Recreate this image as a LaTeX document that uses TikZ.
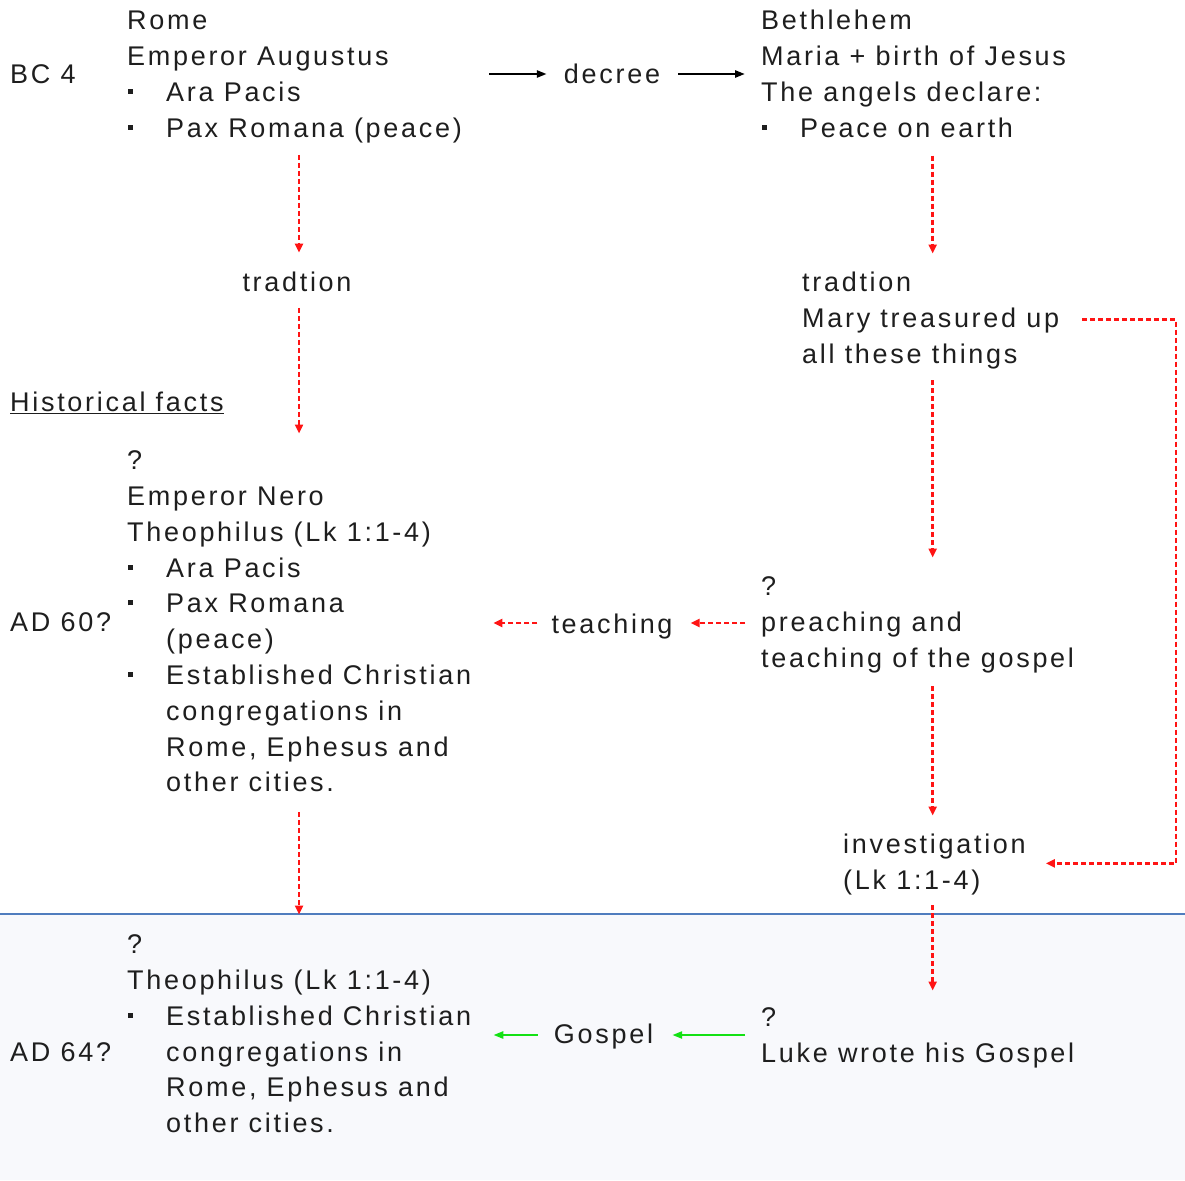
\documentclass[tikz,border=0pt]{standalone}
\usepackage{fontspec}
\setmainfont{Liberation Sans}[LetterSpace=10]
\usetikzlibrary{arrows.meta,calc}
\definecolor{redc}{RGB}{255,20,20}
\definecolor{greenc}{RGB}{20,225,20}
\definecolor{bandc}{RGB}{248,249,252}
\definecolor{linec}{RGB}{80,125,190}
\definecolor{textc}{RGB}{30,30,30}
\newcommand\dfont{\fontsize{27pt}{35.8pt}\selectfont}
\newcommand\sst{\rule{0pt}{22pt}}
\newcommand\bl{\makebox[39pt][l]{\hspace{0.5pt}\raisebox{7.5pt}{\rule{5pt}{5pt}}}}
\newcommand\ind{\hspace*{39pt}}
\begin{document}
\begin{tikzpicture}[x=1pt,y=-1pt,
  txt/.style={inner sep=0pt,font=\dfont,text=textc,anchor=base west},
  blk/.style={inner sep=0pt,font=\dfont,text=textc,align=left,anchor=north west},
  blackarr/.style={draw=black,line width=2.4pt,-{Triangle[length=10pt,width=7pt]}},
  redarr/.style={draw=redc,line width=2.6pt,dash pattern=on 5pt off 3pt,-{Triangle[length=9pt,width=8pt]}},
  greenarr/.style={draw=greenc,line width=2.4pt,-{Triangle[length=10pt,width=7pt]}}]
\useasboundingbox (0,0) rectangle (1185,1180);
\fill[bandc] (0,914) rectangle (1185,1180);
\draw[linec,line width=1.8pt] (0,914) -- (1185,914);

\node[txt] (bc4) at (10,83.5) {BC 4};
\node[blk] (rome) at (127,7.5) {\sst Rome\\Emperor Augustus\\\bl Ara Pacis\\\bl Pax Romana (peace)};
\node[txt,anchor=base] (decree) at (612,84) {decree};
\node[blk] (beth) at (761,7.5) {\sst Bethlehem\\Maria + birth of Jesus\\The angels declare:\\\bl Peace on earth};
\node[txt,anchor=base] (tr1) at (297,291.5) {tradtion};
\node[txt] (hist) at (10,411.5) {\underline{Historical facts}};
\node[blk] (tr2) at (802,269.5) {\sst tradtion\\Mary treasured up\\all these things};
\node[blk] (nero) at (127,447.5) {\sst ?\\Emperor Nero\\Theophilus (Lk 1:1-4)\\\bl Ara Pacis\\\bl Pax Romana\\\ind(peace)\\\bl Established Christian\\\ind congregations in\\\ind Rome, Ephesus and\\\ind other cities.};
\node[txt] (ad60) at (10,631.5) {AD 60?};
\node[txt,anchor=base] (teach) at (612,633) {teaching};
\node[blk] (preach) at (761,573.5) {\sst ?\\preaching and\\teaching of the gospel};
\node[blk] (invest) at (843,831.5) {\sst investigation\\(Lk 1:1-4)};
\node[blk] (theo) at (127,931.5) {\sst ?\\Theophilus (Lk 1:1-4)\\\bl Established Christian\\\ind congregations in\\\ind Rome, Ephesus and\\\ind other cities.};
\node[txt] (ad64) at (10,1061.5) {AD 64?};
\node[txt,anchor=base] (gospel) at (603.5,1043) {Gospel};
\node[blk] (luke) at (761,1004.5) {\sst ?\\Luke wrote his Gospel};

\coordinate (r1) at ($(decree.base)+(0,-10)$);
\coordinate (r2) at ($(teach.base)+(0,-10)$);
\coordinate (r3) at ($(gospel.base)+(0,-8)$);
\coordinate (cl) at ($(tr1.base)+(2,0)$);
\coordinate (cr) at ($(tr2.north)+(2,0)$);
\coordinate (lx) at (1176,0);

\draw[blackarr,shorten <=27pt,shorten >=17pt] (rome.east |- r1) -- (decree.west |- r1);
\draw[blackarr,shorten <=18pt,shorten >=16pt] (decree.east |- r1) -- (beth.west |- r1);

\draw[redarr,shorten <=12pt,shorten >=19pt] (cl |- rome.south) -- (cl |- tr1.north);
\draw[redarr,shorten <=16pt,shorten >=14pt] (cl |- tr1.south) -- (cl |- nero.north);
\draw[redarr,shorten <=20pt,shorten >=17pt] (cl |- nero.south) -- (cl |- theo.north);

\draw[redarr,shorten <=18pt,shorten >=16pt] (cr |- beth.south) -- (cr |- tr2.north);
\draw[redarr,shorten <=11pt,shorten >=16pt] (cr |- tr2.south) -- (cr |- preach.north);
\draw[redarr,shorten <=13pt,shorten >=16pt] (cr |- preach.south) -- (cr |- invest.north);
\draw[redarr,shorten <=10pt,shorten >=14pt] (cr |- invest.south) -- (cr |- luke.north);
\draw[redarr,shorten <=23pt,shorten >=20pt] (tr2.east) -| (lx |- invest.east) -- (invest.east);

\draw[redarr,shorten <=16pt,shorten >=18pt] (preach.west |- r2) -- (teach.east |- r2);
\draw[redarr,shorten <=14pt,shorten >=22pt] (teach.west |- r2) -- (nero.east |- r2);

\draw[greenarr,shorten <=16pt,shorten >=19pt] (luke.west |- r3) -- (gospel.east |- r3);
\draw[greenarr,shorten <=16pt,shorten >=22pt] (gospel.west |- r3) -- (theo.east |- r3);
\end{tikzpicture}
\end{document}
